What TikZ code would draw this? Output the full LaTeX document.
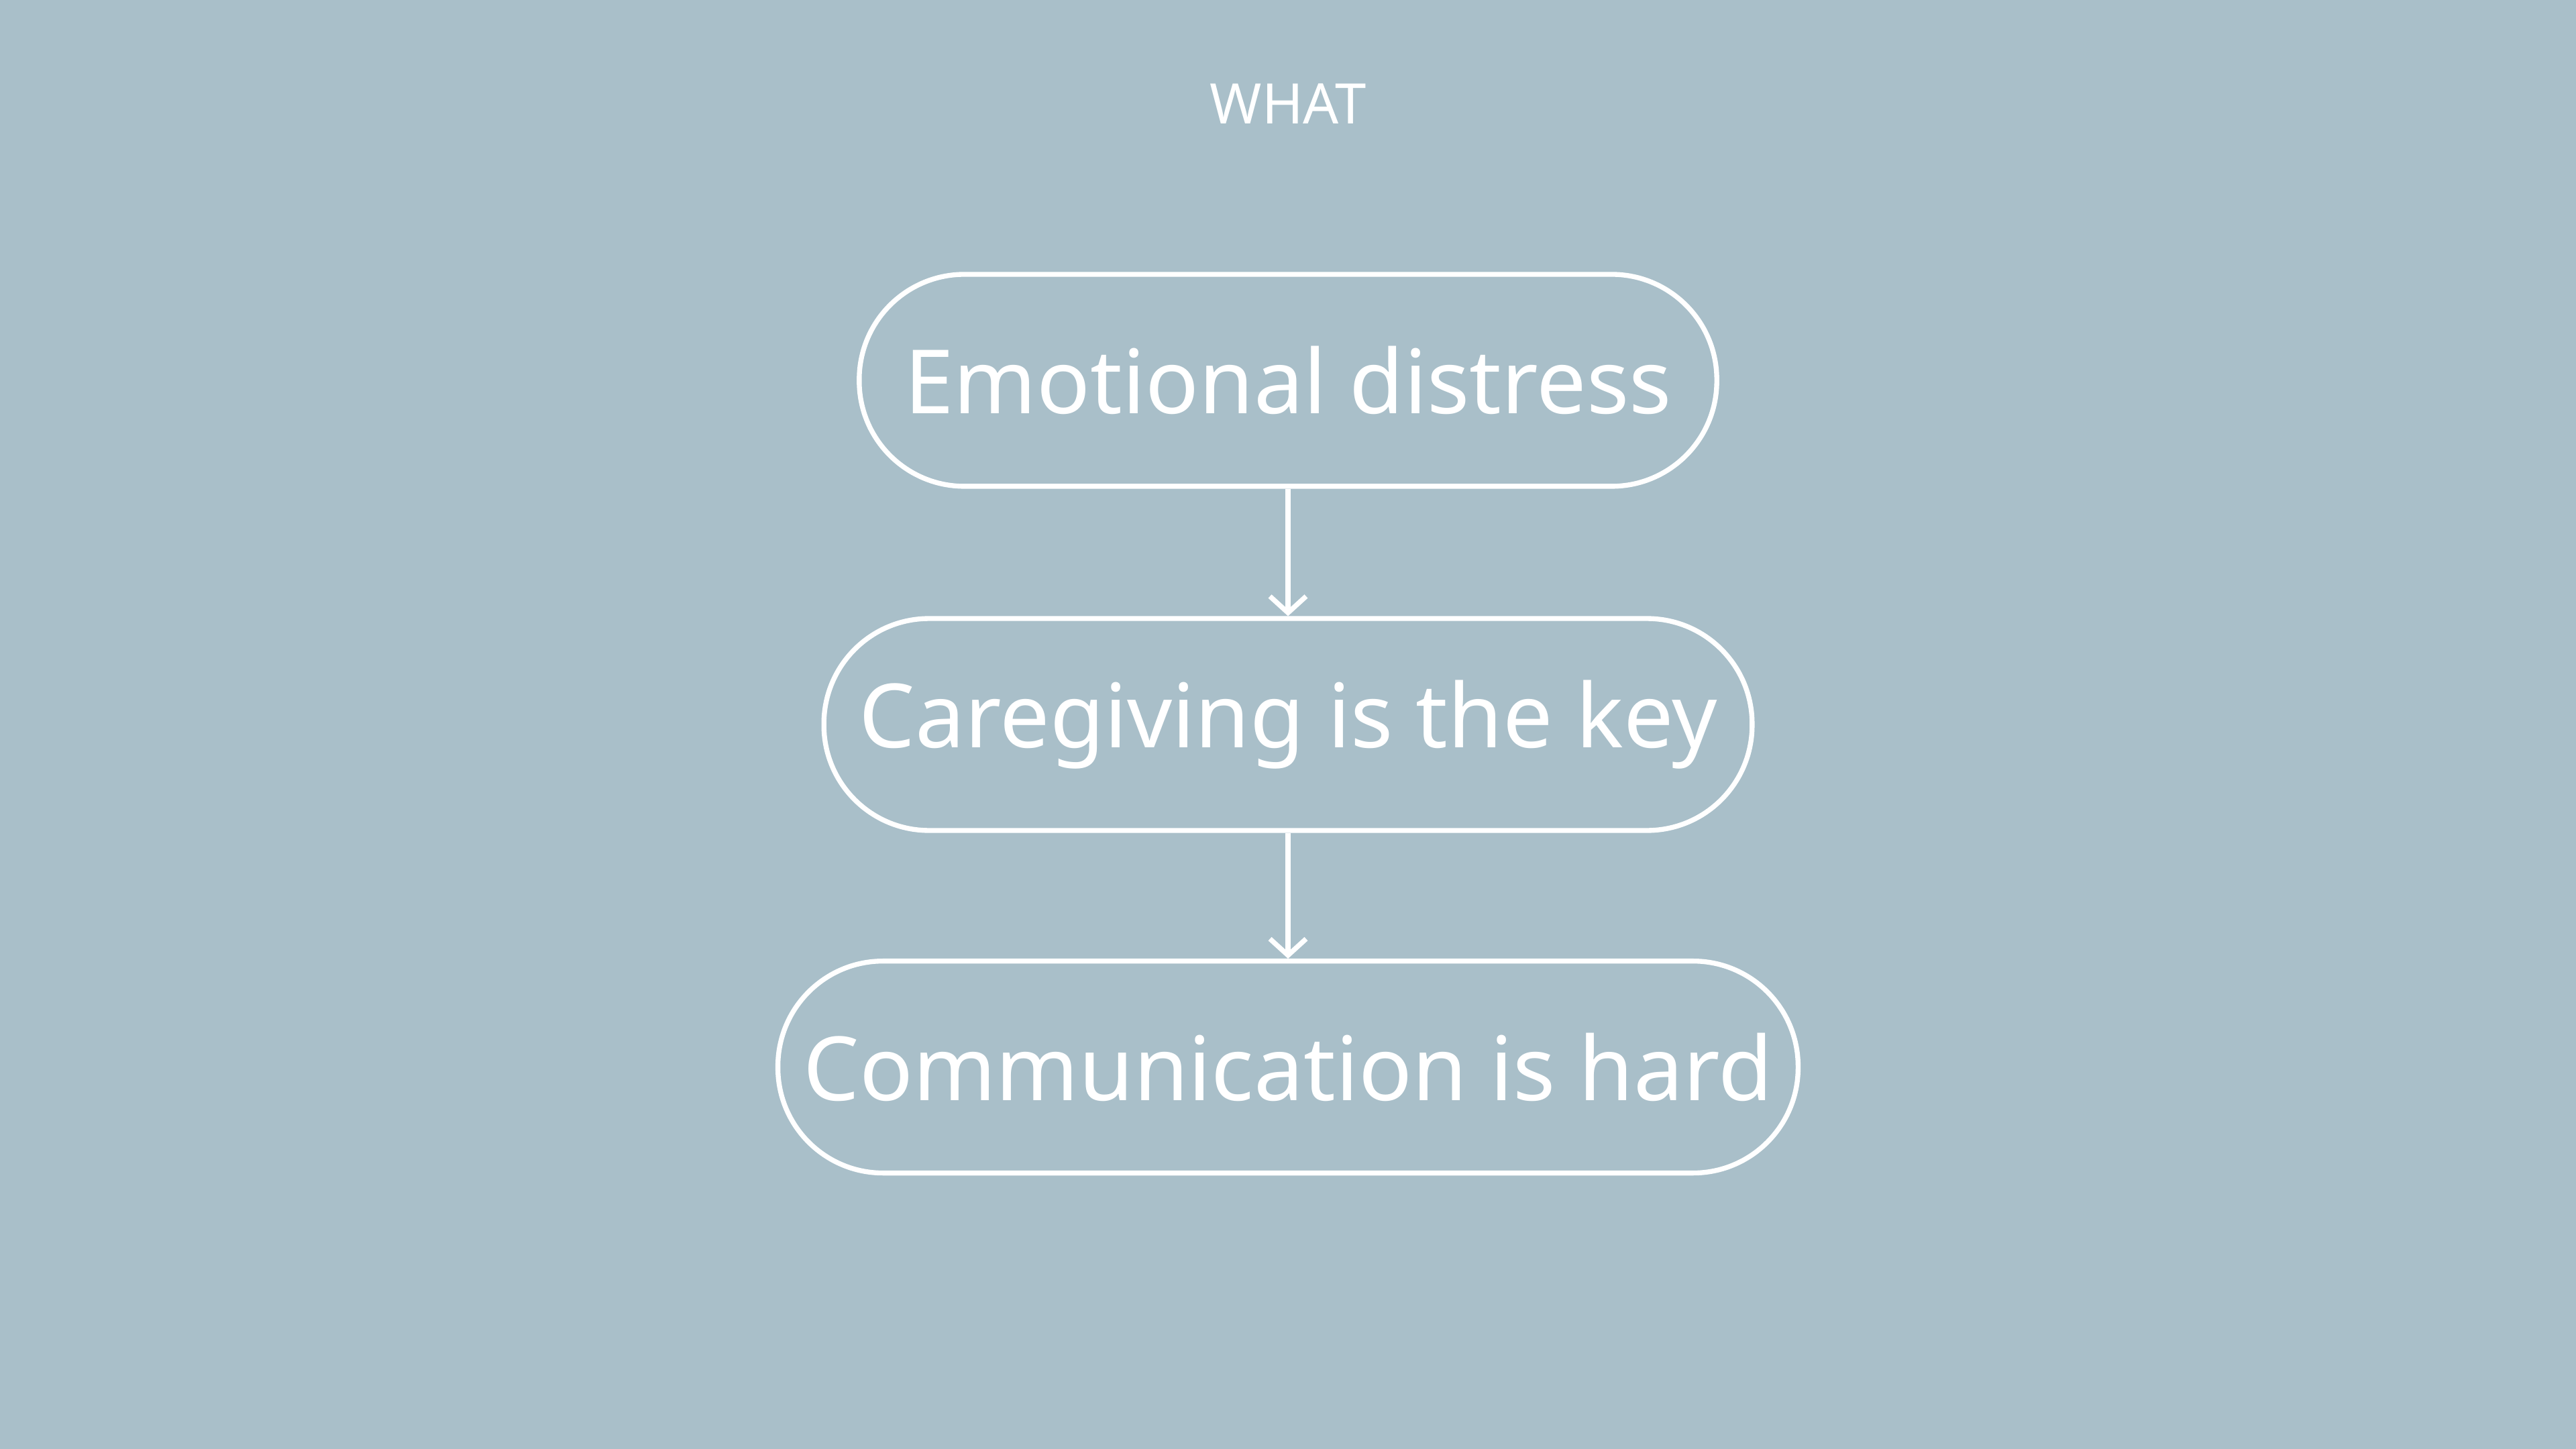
\documentclass[tikz,border=0pt]{standalone}
\usepackage{fontspec}
\usetikzlibrary{arrows.meta}
\setmainfont{Noto Sans}
\definecolor{bgblue}{HTML}{A9BFC9}
\tikzset{every picture/.style={line width=1.5pt}}
\tikzset{pill/.style={draw=white, rounded corners=32pt, minimum height=64.5pt, inner sep=0pt, text=white, font=\fontsize{27}{30}\selectfont}}
\begin{document}
\begin{tikzpicture}[x=0.5pt,y=0.5pt,yscale=-1,xscale=1]
		%background
		\fill [bgblue] (0,0) rectangle (1568,882);
		
		%Title
		\node (title) at (784,63) [text=white, font=\fontsize{17}{20}\selectfont] {WHAT};
		
		%Shape: Pills
		\node (emo) at (784,231.5) [pill, minimum width=261pt] {Emotional distress};
		\node (care) at (784,441) [pill, minimum width=282.5pt] {Caregiving is the key};
		\node (comm) at (784,649.5) [pill, minimum width=310.5pt] {Communication is hard};
		
		\draw [white, -{Straight Barb[length=5pt,width=11pt]}] (emo) -- (care);
		\draw [white, -{Straight Barb[length=5pt,width=11pt]}] (care) -- (comm);
\end{tikzpicture}
\end{document}
